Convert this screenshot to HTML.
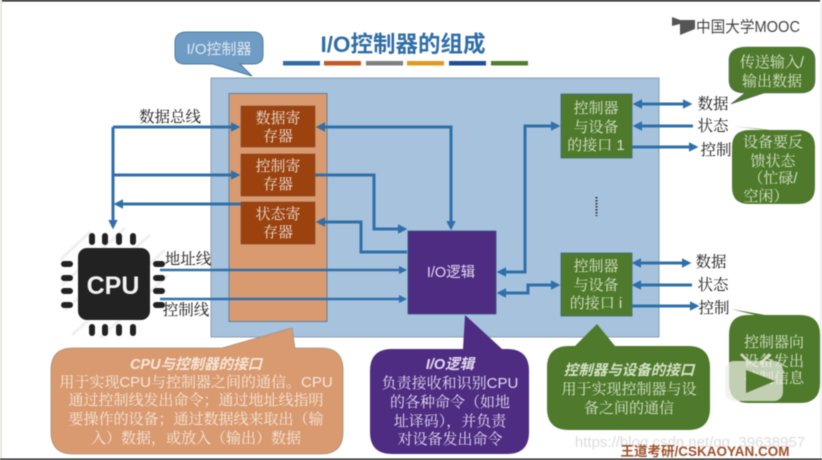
<!DOCTYPE html>
<html><head><meta charset="utf-8"><style>
html,body{margin:0;padding:0;background:#fff}
svg{display:block;filter:blur(.4px)}
text{font-family:"Liberation Sans","Noto Serif CJK SC",serif;text-anchor:middle}
.s{font-family:"Liberation Sans","Noto Sans CJK SC",sans-serif}
.w{fill:#eadfd2;font-size:15px}
.b{fill:#1a1a1a;font-size:15.5px}
.g{fill:#d5e2c8;font-size:15px}
.y{fill:#f6e6d8;font-size:15px}
.p{fill:#e2d8ee;font-size:15px}
.h{font-family:"Liberation Sans","Noto Sans CJK SC",sans-serif;font-weight:bold;font-style:italic;font-size:14.5px}
</style></head><body>
<svg width="822" height="460" viewBox="0 0 822 460" xmlns="http://www.w3.org/2000/svg">
<defs>
<marker id="a" markerWidth="3.2" markerHeight="3.2" refX="2.4" refY="1.6" orient="auto-start-reverse" markerUnits="strokeWidth"><path d="M0 0L3.2 1.600L0 3.200Z" fill="#2f70ab"/></marker>
</defs>
<rect width="822" height="460" fill="#fff"/>
<rect width="822" height="1.500" fill="#111"/>
<rect x="0" width="2" height="460" fill="#e6e6e0"/>
<rect x="820" width="2" height="460" fill="#eeeeee"/>

<!-- CPU -->
<g stroke="#f0f0f0" stroke-width="3">
<path d="M60 260L90 232M62 285L125 228M65 310L150 235M72 335L165 250M100 338L168 275"/>
</g>
<g fill="#222">
<rect x="78" y="248" width="72" height="72" rx="9"/>
<rect x="89" y="233" width="6" height="12" rx="3"/><rect x="102" y="233" width="6" height="12" rx="3"/><rect x="116" y="233" width="6" height="12" rx="3"/><rect x="130" y="233" width="6" height="12" rx="3"/>
<rect x="89" y="324" width="6" height="12" rx="3"/><rect x="102" y="324" width="6" height="12" rx="3"/><rect x="116" y="324" width="6" height="12" rx="3"/><rect x="130" y="324" width="6" height="12" rx="3"/>
<rect x="61" y="261" width="12" height="6" rx="3"/><rect x="61" y="275" width="12" height="6" rx="3"/><rect x="61" y="288" width="12" height="6" rx="3"/><rect x="61" y="302" width="12" height="6" rx="3"/>
<rect x="153" y="261" width="12" height="6" rx="3"/><rect x="153" y="275" width="12" height="6" rx="3"/><rect x="153" y="288" width="12" height="6" rx="3"/><rect x="153" y="302" width="12" height="6" rx="3"/>
</g>
<text class="s" x="113" y="294" font-size="25" font-weight="bold" fill="#f2f2f2">CPU</text>

<!-- main panel -->
<rect x="211" y="78" width="448" height="259" fill="#a6c2dc" stroke="#8aa0b5" stroke-width="1"/>
<rect x="229" y="93.500" width="98" height="228" fill="#d99a70" stroke="#5f7f9c"/>
<g fill="#9c420f" stroke="#7d4a2a" stroke-width=".6">
<rect x="241" y="106" width="74" height="41"/>
<rect x="241" y="154" width="74" height="42"/>
<rect x="241" y="202" width="74" height="42"/>
</g>
<rect x="408" y="231" width="88" height="83" fill="#4d2c82" stroke="#39547f" stroke-width=".8"/>
<rect x="561" y="94" width="71" height="64" fill="#4f7a2c" stroke="#3a6a80" stroke-width=".8"/>
<rect x="561" y="253" width="71" height="63" fill="#4f7a2c" stroke="#3a6a80" stroke-width=".8"/>

<!-- connectors -->
<g fill="none" stroke="#2f70ab" stroke-width="3">
<path d="M113 127H238" marker-end="url(#a)"/>
<path d="M113 127V227" marker-end="url(#a)"/>
<path d="M113 175H238" marker-end="url(#a)"/>
<path d="M241 204H116" marker-end="url(#a)"/>
<path d="M451 228V127H318" marker-start="url(#a)" marker-end="url(#a)"/>
<path d="M315 175H374V229H405" marker-end="url(#a)"/>
<path d="M407 252H361V222H318" marker-end="url(#a)"/>
<path d="M160 270H405" marker-end="url(#a)" stroke-width="2.600"/>
<path d="M160 299H405" marker-end="url(#a)" stroke-width="2.600"/>
<path d="M558 126H525V272H499" marker-start="url(#a)" marker-end="url(#a)"/>
<path d="M558 285H528V293H499" marker-start="url(#a)" marker-end="url(#a)"/>
<path d="M635 104H690" marker-start="url(#a)" marker-end="url(#a)"/>
<path d="M693 126H635" marker-end="url(#a)"/>
<path d="M632 147H696" marker-end="url(#a)"/>
<path d="M634 263H689" marker-start="url(#a)" marker-end="url(#a)"/>
<path d="M692 285H634" marker-end="url(#a)"/>
<path d="M632 306H697" marker-end="url(#a)"/>
</g>
<path d="M596.500 197V216" stroke="#333" stroke-width="2" stroke-dasharray="1.500 1.500"/>

<!-- callouts -->
<path d="M187 32H253Q263 32 263 42V55Q263 64 253 64H240L252 76L213 64H185Q175 64 175 55V42Q175 32 187 32Z" fill="#6f9cc4" stroke="#4d7ba5"/>
<path d="M73 348H222L292 328L295 348H321Q343 348 343 370V432Q343 454 321 454H73Q51 454 51 432V370Q51 348 73 348Z" fill="#d99a70" stroke="#a58f7e" stroke-width=".8"/>
<path d="M392 349H463L465 315L502 349H507Q529 349 529 371V432Q529 454 507 454H392Q370 454 370 432V371Q370 349 392 349Z" fill="#4d2c82"/>
<path d="M569 346H575L597 324L615 346H688Q710 346 710 368V408Q710 430 688 430H569Q547 430 547 408V368Q547 346 569 346Z" fill="#4f7a2c"/>
<path d="M747 47H800Q815 47 815 60V80Q815 93 800 93H764L731 104L745 93Q729 93 729 80V60Q729 47 747 47Z" fill="#4f7a2c" stroke="#3f6a55" stroke-width=".6"/>
<path d="M750 130H765L733 126L770 130H798Q815 130 815 147V187Q815 204 798 204H749Q732 204 732 187V147Q732 130 750 130Z" fill="#4f7a2c"/>
<path d="M748 315H765L731 309L755 315H800Q820 315 820 335V383Q820 403 800 403H749Q729 403 729 383V335Q729 315 748 315Z" fill="#4f7a2c"/>

<!-- title -->
<text class="s" x="403" y="52" font-size="22.500" font-weight="bold" fill="#2f6da6">I/O控制器的组成</text>
<g>
<rect x="283" y="61" width="37" height="4.500" fill="#2e6da4"/>
<rect x="324" y="61" width="37" height="4.500" fill="#c55a20"/>
<rect x="366" y="61" width="37" height="4.500" fill="#7f7f7f"/>
<rect x="407" y="61" width="37" height="4.500" fill="#e09a20"/>
<rect x="449" y="61" width="37" height="4.500" fill="#1f4e99"/>
<rect x="491" y="61" width="37" height="4.500" fill="#4f7f2a"/>
</g>
<text class="s" x="219" y="54" font-size="15" fill="#dfe8f0">I/O控制器</text>

<!-- logo -->
<path d="M672 17L680 20L695 20V29L680 35V24L672 26Z" fill="#555"/>
<text class="s" x="748" y="32" font-size="15.500" fill="#444" textLength="104" lengthAdjust="spacingAndGlyphs">中国大学MOOC</text>

<!-- labels -->
<text class="b" x="170" y="122">数据总线</text>
<text class="b" x="188" y="264">地址线</text>
<text class="b" x="186" y="315">控制线</text>
<text class="b" x="713" y="109">数据</text>
<text class="b" x="713" y="131">状态</text>
<text class="b" x="716" y="155">控制</text>
<text class="b" x="711" y="267">数据</text>
<text class="b" x="713" y="290">状态</text>
<text class="b" x="714" y="313">控制</text>

<text class="w" x="278" y="123">数据寄</text><text class="w" x="278" y="141">存器</text>
<text class="w" x="278" y="171">控制寄</text><text class="w" x="278" y="189">存器</text>
<text class="w" x="278" y="219">状态寄</text><text class="w" x="278" y="237">存器</text>
<text class="s" x="451" y="277" font-size="14.500" fill="#e2d8ee">I/O逻辑</text>

<text class="g" x="596" y="113">控制器</text><text class="g" x="596" y="132">与设备</text><text class="g" x="596" y="150">的接口 1</text>
<text class="g" x="596" y="271">控制器</text><text class="g" x="596" y="290">与设备</text><text class="g" x="596" y="308">的接口 i</text>

<text class="g" x="772" y="67">传送输入/</text><text class="g" x="772" y="86">输出数据</text>
<text class="g" x="773" y="147">设备要反</text><text class="g" x="773" y="166">馈状态</text><text class="g" x="773" y="183">（忙碌/</text><text class="g" x="766" y="201">空闲）</text>
<text class="g" x="774" y="347">控制器向</text><text class="g" x="774" y="366">设备发出</text><text class="g" x="774" y="383">控制信息</text>

<text class="h" x="196" y="369" fill="#f6e6d8">CPU与控制器的接口</text>
<text class="y" x="196" y="387">用于实现CPU与控制器之间的通信。CPU</text>
<text class="y" x="196" y="405">通过控制线发出命令；通过地址线指明</text>
<text class="y" x="196" y="424">要操作的设备；通过数据线来取出（输</text>
<text class="y" x="196" y="443">入）数据，或放入（输出）数据</text>

<text class="h" x="450" y="369" fill="#e2d8ee">I/O逻辑</text>
<text class="p" x="450" y="388">负责接收和识别CPU</text>
<text class="p" x="450" y="407">的各种命令（如地</text>
<text class="p" x="450" y="426">址译码），并负责</text>
<text class="p" x="450" y="444">对设备发出命令</text>

<text class="h" x="629" y="375" fill="#d5e2c8">控制器与设备的接口</text>
<text class="g" x="629" y="394">用于实现控制器与设</text>
<text class="g" x="629" y="413">备之间的通信</text>

<!-- play button -->
<rect x="725" y="361" width="58" height="40" rx="9" fill="#eef0e8" fill-opacity=".72"/>
<path d="M746 370L775 381L746 393Z" fill="#4f7a2c"/>
<path d="M741 354L751 364M770 354L760 364" stroke="#e6e8de" stroke-width="3" opacity=".8"/>

<!-- watermarks -->
<text class="s" x="690" y="447" font-size="15" fill="#c6c6c6" opacity=".6">https://blog.csdn.net/qq_39638957</text>
<text class="s" x="705" y="456" font-size="13.500" fill="#a0522d" font-weight="bold">王道考研/CSKAOYAN.COM</text>
<rect y="458.500" width="822" height="1.500" fill="#222"/>
</svg>
</body></html>
